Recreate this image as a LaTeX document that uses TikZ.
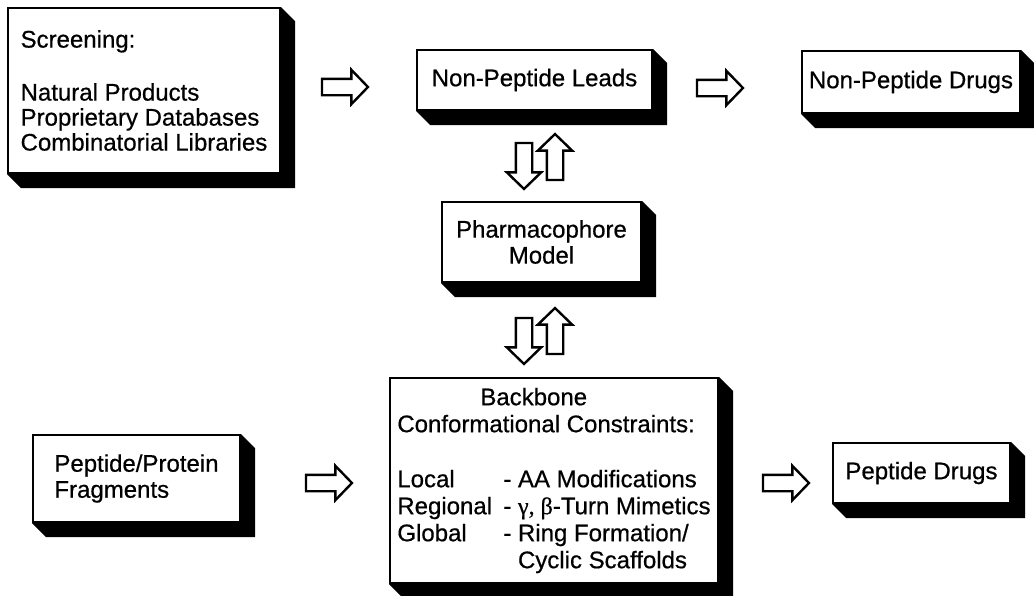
\documentclass[tikz,border=0pt]{standalone}
\usepackage{fontspec}
\setmainfont[FakeBold=0.6]{Liberation Sans}
\newfontfamily\greekserif[FakeBold=0.6]{Liberation Serif}
\usetikzlibrary{shapes.arrows,backgrounds}
\tikzset{panel/.style={draw, fill=white, line width=2pt, inner sep=0pt,
                       font=\fontsize{24}{26}\selectfont},
        flowarrow/.style={single arrow, draw, fill=white, line width=2.4pt,
                          inner xsep=0pt, inner ysep=7pt, single arrow head extend=9pt,
                          single arrow tip angle=92, minimum height=46pt},
        panelshadow/.style={fill=black},
        }

\begin{document}
\begin{tikzpicture}[x=1pt, y=-1pt]
    \useasboundingbox (0,0) rectangle (1034,595);

    \node[panel, minimum width=272pt, minimum height=165pt, align=left,
          font=\fontsize{24}{25}\selectfont] (screen) at (144,90.5)
        {Screening:\\[28pt]Natural Products\\Proprietary Databases\\Combinatorial Libraries};
    \node[panel, minimum width=235pt, minimum height=60pt] (leads) at (534.5,80) {Non-Peptide Leads};
    \node[panel, minimum width=218pt, minimum height=62pt] (drugs) at (911,82) {Non-Peptide Drugs};
    \node[panel, minimum width=199pt, minimum height=80pt, align=center] (pharm) at (541.5,242)
        {Pharmacophore\\Model};
    \node[panel, minimum width=207pt, minimum height=87pt, align=left] (frag) at (136.5,478.5)
        {Peptide/Protein\\Fragments};
    \node[panel, minimum width=328pt, minimum height=205pt, align=left,
          font=\fontsize{24}{27}\selectfont] (backbone) at (554,480.5)
        {\hspace*{83pt}Backbone\\
         Conformational Constraints:\\[28pt]
         \makebox[106pt][l]{Local}- AA Modifications\\
         \makebox[106pt][l]{Regional}- {\greekserif γ, β}-Turn Mimetics\\
         \makebox[106pt][l]{Global}- Ring Formation/\\
         \makebox[106pt][l]{}\phantom{- }Cyclic Scaffolds};
    \node[panel, minimum width=177pt, minimum height=60pt] (pdrugs) at (921.5,473) {Peptide Drugs};

    \node[flowarrow] (toleads) at (341,87) {};
    \node[flowarrow] (todrugs) at (716,88) {};
    \node[flowarrow] (tobackbone) at (325,483) {};
    \node[flowarrow] (topdrugs) at (782,483) {};
    \node[flowarrow, rotate=-90] (leadsdown) at (524,162) {};
    \node[flowarrow, rotate=90] (pharmup) at (555,161) {};
    \node[flowarrow, rotate=-90] (pharmdown) at (524,337) {};
    \node[flowarrow, rotate=90] (backboneup) at (555,335) {};

    \begin{scope}[on background layer]
        \foreach \n in {screen,leads,drugs,pharm,frag,backbone,pdrugs}
            \fill[panelshadow] (\n.north east) -- ([shift={(14,14)}]\n.north east)
                -- ([shift={(14,14)}]\n.south east) -- ([shift={(14,14)}]\n.south west)
                -- (\n.south west) -- cycle;
    \end{scope}
\end{tikzpicture}
\end{document}
